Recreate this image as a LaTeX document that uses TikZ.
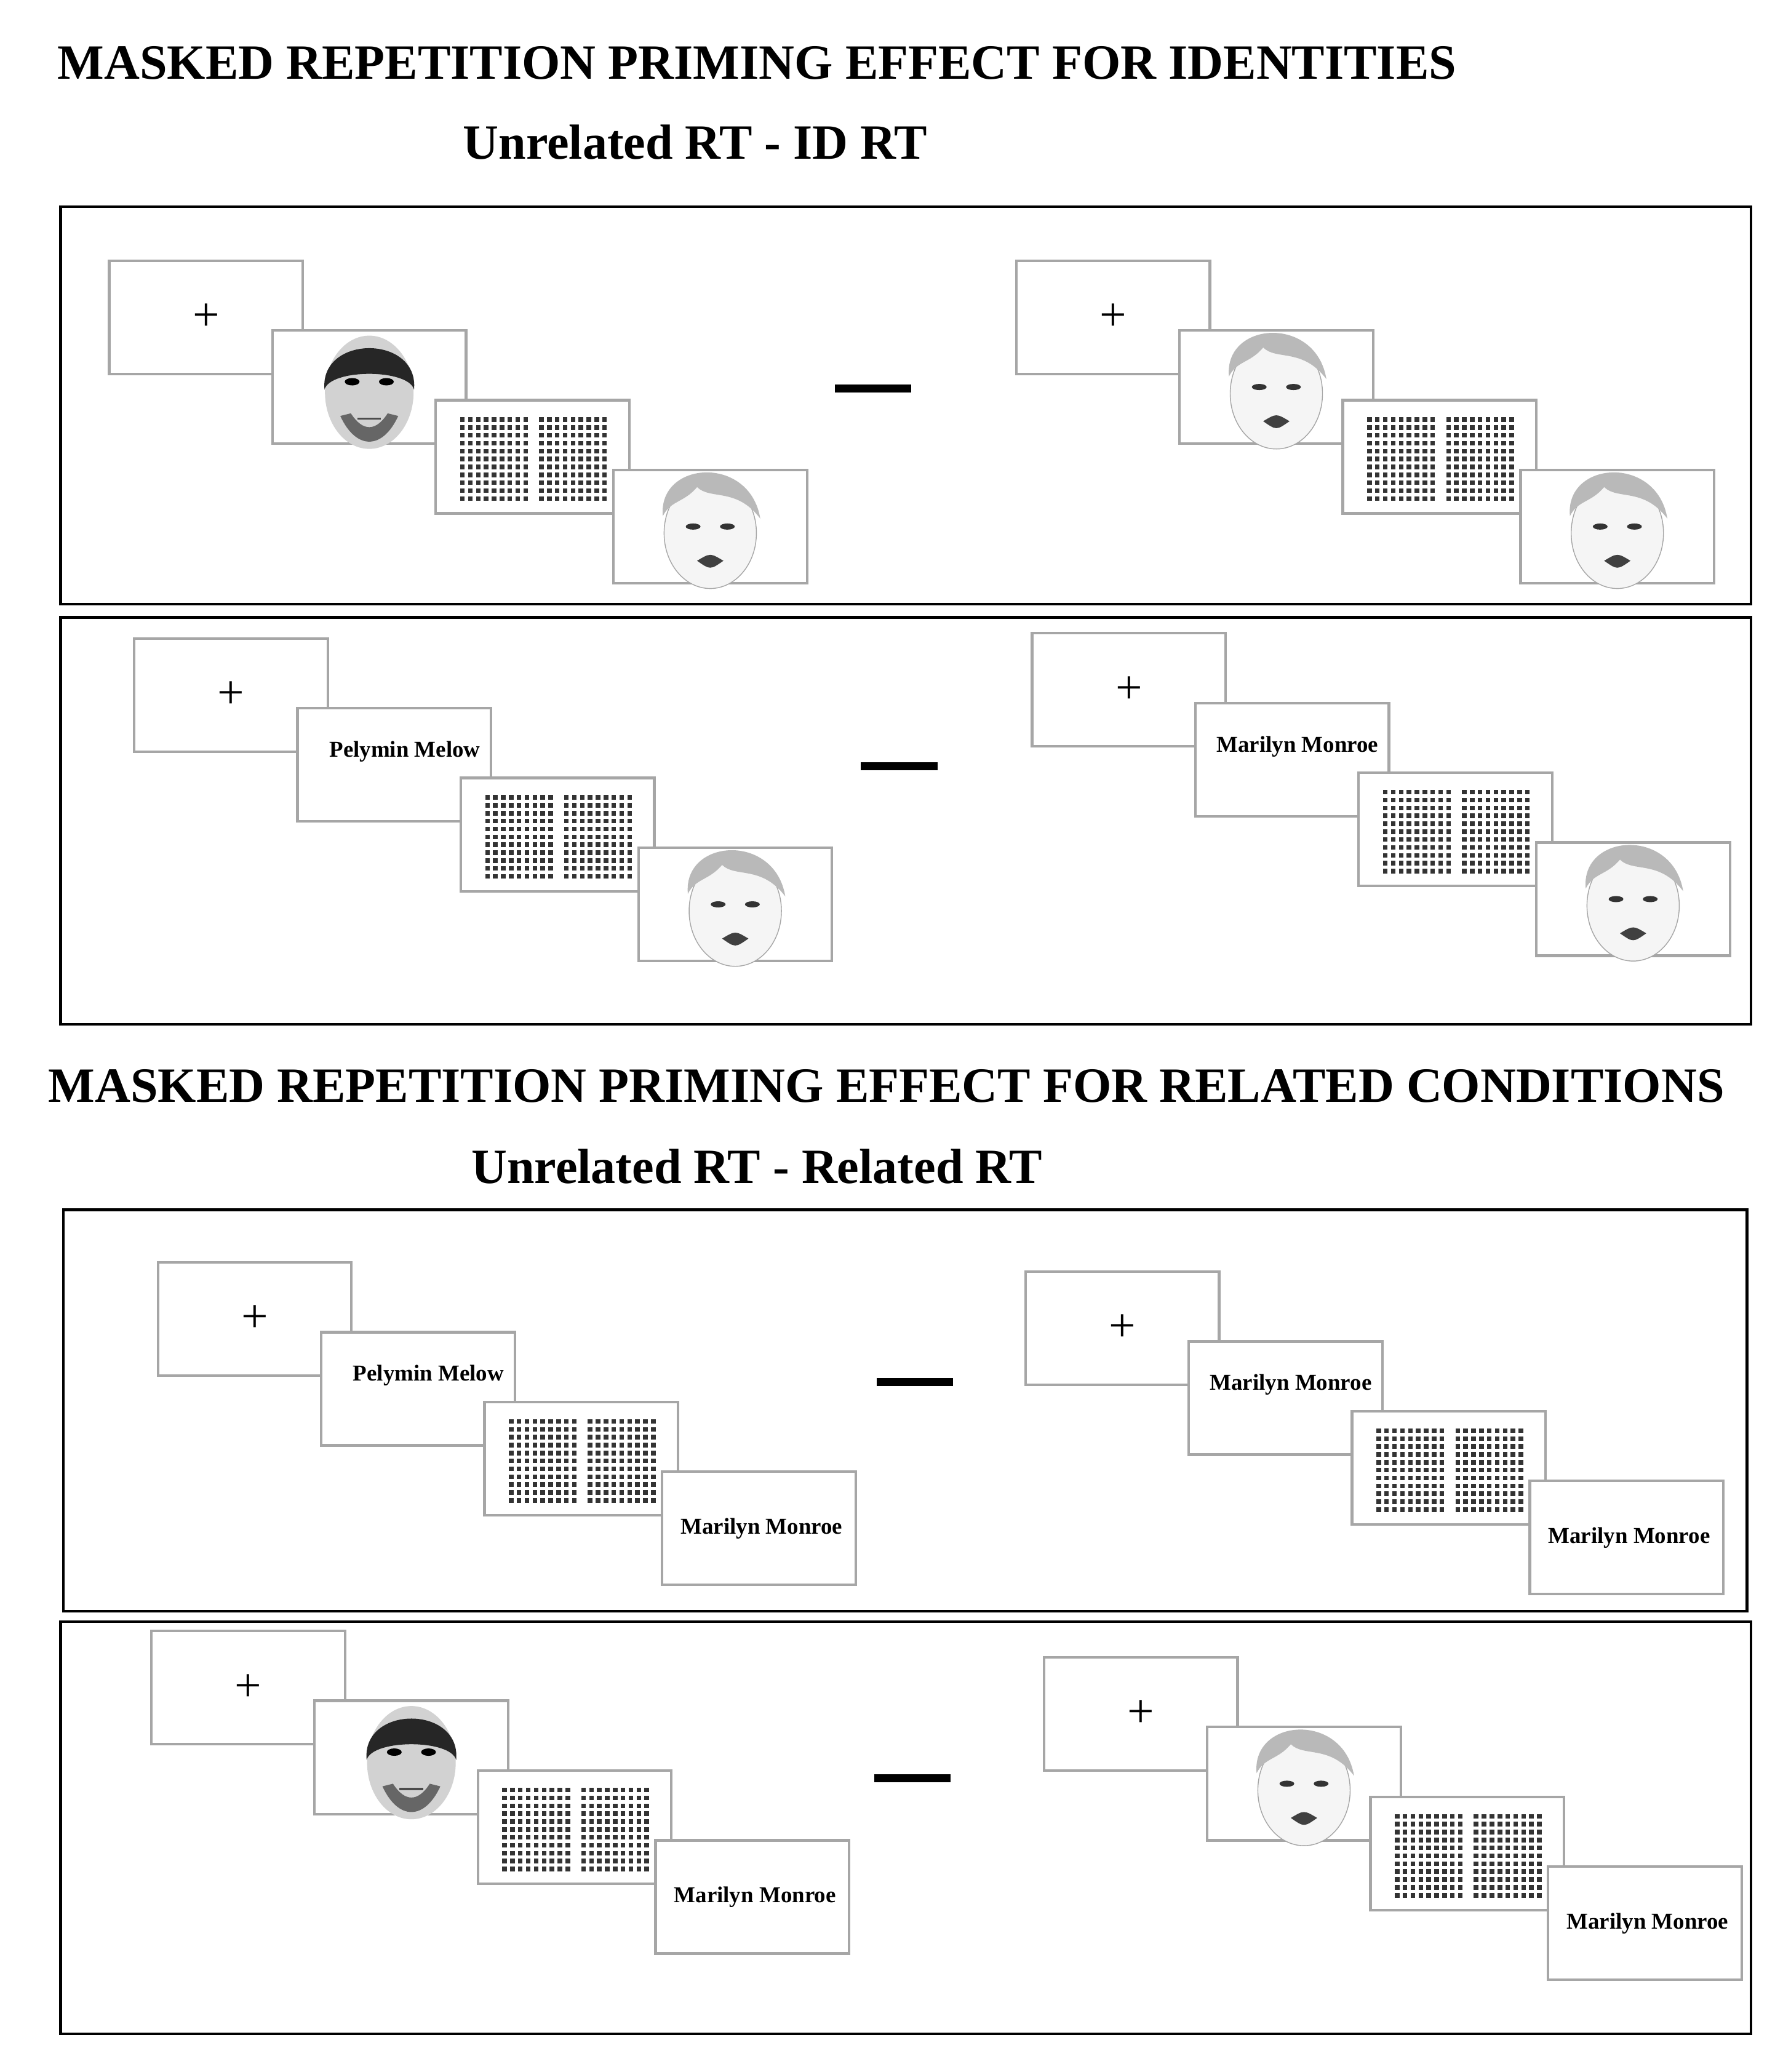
\documentclass[tikz,border=0pt]{standalone}
\usepackage{fontspec}
\setmainfont{Liberation Serif}
\tikzset{
  frame/.style={draw=gray!70, line width=1.2pt, fill=white, anchor=north west,
    minimum width=3.145cm, minimum height=1.84cm, inner sep=0pt},
  panel/.style={draw=black, line width=1.2pt},
  minus/.style={fill=black, minimum width=1.24cm, minimum height=0.13cm, inner sep=0pt},
  title/.style={font=\fontsize{22.8}{26}\selectfont\bfseries},
  lbl/.style={font=\fontsize{10.5}{12}\selectfont\bfseries, inner sep=0pt},
  cross/.pic={\node[font=\fontsize{22}{22}\selectfont] {+};},
  mask/.pic={
    \foreach \g in {-55,5} {
      \foreach \i in {0,...,8} {
        \foreach \j in {0,...,10} {
          \fill[black!80] (\g+\i*6,-30+\j*6) rectangle ++(3.5,3.5);
        }
      }
    }
  },
  pmtext/.pic={\node[lbl] at (8,-10) {Pelymin Melow};},
  mmtext/.pic={\node[lbl] at (4,-10) {Marilyn Monroe};},
  mmtarget/.pic={\node[lbl] at (2,0) {Marilyn Monroe};},
  man/.pic={
    \fill[gray!35] (0,4) ellipse (0.72cm and 0.92cm);
    \fill[black!85] (-34,2) .. controls (-38,-40) and (38,-40) .. (34,2) .. controls (30,-14) and (-30,-14) .. (-34,2) -- cycle;
    \fill[black!60] (-22,22) .. controls (-10,48) and (10,48) .. (22,22) -- (14,20) .. controls (5,34) and (-5,34) .. (-14,20) -- cycle;
    \fill[black] (-13,-4) ellipse (0.12cm and 0.06cm);
    \fill[black] (13,-4) ellipse (0.12cm and 0.06cm);
    \draw[black!70, line width=1pt] (-9,24) -- (9,24);
  },
  woman/.pic={
    \draw[gray!70, fill=gray!8] (0,5) ellipse (0.75cm and 0.9cm);
    \fill[gray!55] (-36,-8) .. controls (-40,-50) and (30,-55) .. (38,-6) .. controls (20,-30) and (0,-20) .. (-10,-30) .. controls (-20,-18) and (-30,-20) .. (-36,-8) -- cycle;
    \fill[black!80] (-13,0) ellipse (0.12cm and 0.05cm);
    \fill[black!80] (13,0) ellipse (0.12cm and 0.05cm);
    \fill[black!75] (-10,26) .. controls (0,20) .. (10,26) .. controls (0,33) .. (-10,26) -- cycle;
  }
}
% one trial: fixation, prime, mask, target
\newcommand{\trialseq}[5]{%
  \node[frame] (#1a) at (#2,#3) {};
  \pic at (#1a.center) {cross};
  \node[frame] (#1b) at ({#2+124},{#3+53}) {};
  \pic at (#1b.center) {#4};
  \node[frame] (#1c) at ({#2+248},{#3+106}) {};
  \pic at (#1c.center) {mask};
  \node[frame] (#1d) at ({#2+383},{#3+159}) {};
  \pic at (#1d.center) {#5};
}
\begin{document}
\begin{tikzpicture}[x=0.021397cm, y=-0.021397cm]
  \useasboundingbox[fill=white] (0,0) rectangle (1360,1574);

  % Identities
  \node[title, anchor=west] (t1) at (38,48) {MASKED REPETITION PRIMING EFFECT FOR IDENTITIES};
  \node[title] (s1) at (528,108) {Unrelated RT - ID RT};
  \draw[panel] (46,157) rectangle (1330,459);
  \draw[panel] (46,469) rectangle (1330,778);
  \trialseq{pa}{82}{197}{man}{woman}
  \node[minus] (ma) at (663,295) {};
  \trialseq{pb}{771}{197}{woman}{woman}
  \trialseq{pc}{101}{484}{pmtext}{woman}
  \node[minus] (mb) at (683,582) {};
  \trialseq{pd}{783}{480}{mmtext}{woman}

  % Related conditions
  \node[title, anchor=west] (t2) at (31,825) {MASKED REPETITION PRIMING EFFECT FOR RELATED CONDITIONS};
  \node[title] (s2) at (575,886) {Unrelated RT - Related RT};
  \draw[panel] (48,919) rectangle (1327,1224);
  \draw[panel] (46,1232) rectangle (1330,1545);
  \trialseq{pe}{119}{958}{pmtext}{mmtarget}
  \node[minus] (mc) at (695,1050) {};
  \trialseq{pf}{778}{965}{mmtext}{mmtarget}
  \trialseq{pg}{114}{1238}{man}{mmtarget}
  \node[minus] (md) at (693,1351) {};
  \trialseq{ph}{792}{1258}{woman}{mmtarget}
\end{tikzpicture}
\end{document}
